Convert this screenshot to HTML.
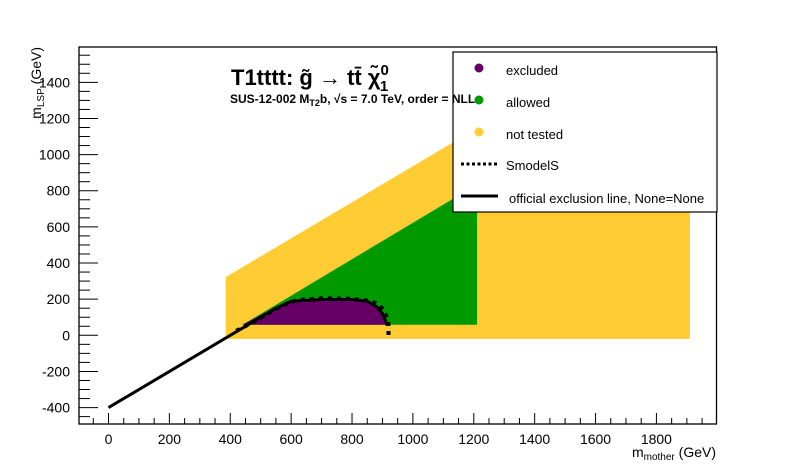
<!DOCTYPE html>
<html><head><meta charset="utf-8"><style>
body{margin:0;background:#fff;}
svg{display:block;font-family:"Liberation Sans",sans-serif;}
</style></head><body>
<svg id="chart" width="796" height="472" viewBox="0 0 796 472" xmlns="http://www.w3.org/2000/svg">
<rect x="0" y="0" width="796" height="472" fill="#fff"/>
<g id="regions"></g>
<g id="lines"></g>
<rect x="79" y="47" width="637.5" height="377" fill="none" stroke="#000" stroke-width="1.3"/>
<g id="axes"></g>
<text x="716" y="457" text-anchor="end" font-size="14">m<tspan font-size="10" dy="3">mother</tspan><tspan dy="-3"> (GeV)</tspan></text>
<text transform="translate(41,47) rotate(-90)" text-anchor="end" font-size="14">m<tspan font-size="10" dy="3">LSP</tspan><tspan dy="-3"> (GeV)</tspan></text>
<g>
<rect x="453" y="52" width="264" height="160" fill="#fff" stroke="#000" stroke-width="1.2"/>
<circle cx="479" cy="68" r="4.5" fill="#660066"/>
<text x="506" y="75" font-size="13">excluded</text>
<circle cx="479" cy="100" r="4.5" fill="#009900"/>
<text x="506" y="107" font-size="13">allowed</text>
<circle cx="479" cy="132" r="4.5" fill="#ffcc33"/>
<text x="506" y="139" font-size="13">not tested</text>
<line x1="461" y1="164" x2="498" y2="164" stroke="#000" stroke-width="3" stroke-dasharray="3,2.5"/>
<text x="506" y="170" font-size="13">SmodelS</text>
<line x1="461" y1="196" x2="498" y2="196" stroke="#000" stroke-width="3"/>
<text x="509" y="203" font-size="13">official exclusion line, None=None</text>
</g>
<text x="231" y="85" font-size="22" font-weight="bold">T1tttt: g̃ <tspan font-weight="normal">→</tspan> tt̄ χ̃<tspan font-size="15" dy="-10">0</tspan><tspan font-size="15" dx="-9" dy="16">1</tspan></text>
<text x="230" y="103" font-size="12" font-weight="bold">SUS-12-002  M<tspan font-size="9" dy="3">T2</tspan><tspan dy="-3">b,  √s =  7.0 TeV, order = NLL</tspan></text>
</svg>
<script>
// ---- data (GeV) ----
const notTestedMother = [385, 385, 1210, 1910, 1910];
const notTestedLsp    = [-20, 322, 1145, 1145, -20];
const allowedMother = [440, 1211, 1211, 440];
const allowedLsp    = [58, 835, 58, 58];
const excludedMother = [440, 470, 520, 570, 610, 700, 800, 850, 880, 900, 912, 917];
const excludedLsp    = [58, 85, 130, 172, 192, 197, 197, 187, 162, 122, 85, 58];
const officialMother = [0, 400, 450, 500, 550, 600, 700, 800, 850, 880, 900, 910, 915];
const officialLsp    = [-400, 0, 50, 100, 150, 188, 198, 198, 188, 160, 120, 80, 55];
const smodelsMother = [420, 460, 500, 540, 580, 620, 700, 800, 860, 890, 905, 915, 920, 920];
const smodelsLsp    = [25, 60, 95, 135, 170, 195, 205, 202, 190, 168, 135, 100, 60, 0];
const xTicks = [0, 200, 400, 600, 800, 1000, 1200, 1400, 1600, 1800];
const yTicks = [-400, -200, 0, 200, 400, 600, 800, 1000, 1200, 1400];

const NS = 'http://www.w3.org/2000/svg';
function X(v){ return 108.5 + v * 0.3044; }
function Y(v){ return 335.3 - v * 0.1807; }
function pts(ms, ls){ return ms.map((m,i)=>X(m).toFixed(1)+','+Y(ls[i]).toFixed(1)).join(' '); }
const regions = document.getElementById('regions');
const lines = document.getElementById('lines');
const axes = document.getElementById('axes');

function poly(parent, ms, ls, fill, name){
  const p = document.createElementNS(NS, 'polygon');
  p.setAttribute('points', pts(ms, ls));
  p.setAttribute('fill', fill);
  
  
  parent.appendChild(p);
}
poly(regions, notTestedMother, notTestedLsp, '#ffcc33', 'not-tested-region');
poly(regions, allowedMother, allowedLsp, '#009900', 'allowed-region');
poly(regions, excludedMother, excludedLsp, '#660066', 'excluded-region');

const off = document.createElementNS(NS, 'polyline');
off.setAttribute('points', pts(officialMother, officialLsp));
off.setAttribute('fill', 'none'); off.setAttribute('stroke', '#000'); off.setAttribute('stroke-width', '3');
off.setAttribute('stroke-linejoin', 'round');


lines.appendChild(off);

const sm = document.createElementNS(NS, 'polyline');
sm.setAttribute('points', pts(smodelsMother, smodelsLsp));
sm.setAttribute('fill', 'none'); sm.setAttribute('stroke', '#000'); sm.setAttribute('stroke-width', '4');
sm.setAttribute('stroke-dasharray', '4,5');


lines.appendChild(sm);

function ln(x1,y1,x2,y2){
  const l = document.createElementNS(NS,'line');
  l.setAttribute('x1',x1); l.setAttribute('y1',y1); l.setAttribute('x2',x2); l.setAttribute('y2',y2);
  l.setAttribute('stroke','#000'); l.setAttribute('stroke-width','1');
  
  
  axes.appendChild(l);
}
for (let v = -100; v <= 2000; v += 50) {
  const x = X(v); if (x < 79 || x > 716.5) continue;
  ln(x, 424, x, (v % 200 === 0) ? 413 : 418);
}
for (let v = -450; v <= 1600; v += 50) {
  const y = Y(v); if (y < 47 || y > 424) continue;
  ln(79, y, (v % 200 === 0) ? 98 : 90, y);
}
xTicks.forEach(v => {
  const t = document.createElementNS(NS,'text');
  t.setAttribute('x', X(v)); t.setAttribute('y', 444);
  t.setAttribute('text-anchor','middle'); t.setAttribute('font-size','14');
  
  
  t.textContent = v; axes.appendChild(t);
});
yTicks.forEach(v => {
  const t = document.createElementNS(NS,'text');
  t.setAttribute('x', 70); t.setAttribute('y', Y(v) + 5);
  t.setAttribute('text-anchor','end'); t.setAttribute('font-size','14');
  
  
  t.textContent = v; axes.appendChild(t);
});
</script>
</body></html>
